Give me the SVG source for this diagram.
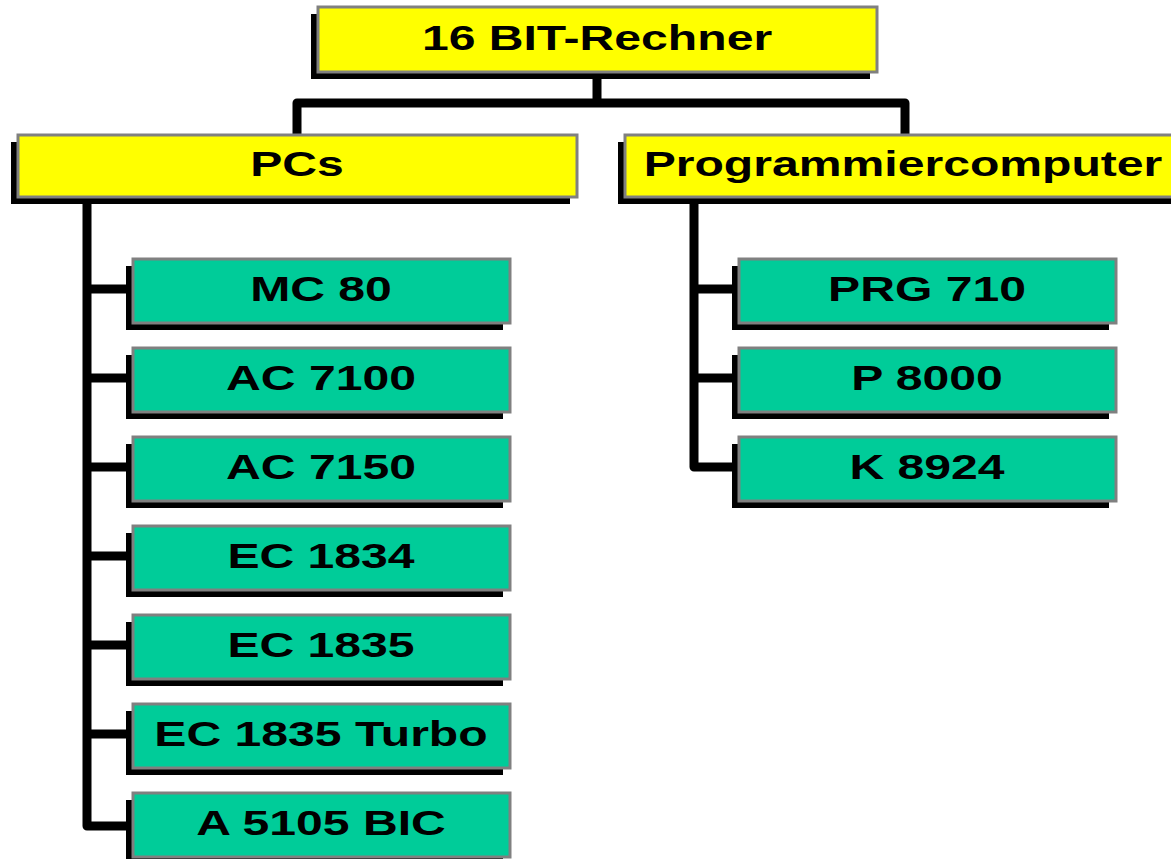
<svg xmlns="http://www.w3.org/2000/svg" width="1171" height="859" viewBox="0 0 1171 859">
<style>
.sh{fill:#000}
.y{fill:#FFFF00;stroke:#808080;stroke-width:3}
.g{fill:#00CC99;stroke:#808080;stroke-width:3}
.t{font-family:"Liberation Sans",Arial,sans-serif;font-weight:bold;font-size:35px;text-anchor:middle;fill:#000}
.c{fill:none;stroke:#000;stroke-width:9;stroke-linejoin:round;stroke-linecap:butt}
</style>
<rect width="1171" height="859" fill="#fff"/>
<g id="connectors">
<path class="c" d="M597,72 V103 M297,135 V103 H905 V135"/>
<path class="c" d="M87,197 V826 H127 M87,289 H127 M87,378 H127 M87,467 H127 M87,556 H127 M87,645 H127 M87,734 H127"/>
<path class="c" d="M694,197 V467 H732 M694,289 H732 M694,378 H732"/>
</g>
<g id="n-root">
<rect class="sh" x="311" y="14" width="559" height="65"/>
<rect class="y" x="318" y="7" width="559" height="65"/>
<text class="t" transform="translate(597,50) scale(1.375,1)">16 BIT-Rechner</text>
</g>
<g id="n-pcs">
<rect class="sh" x="11" y="142" width="559" height="62"/>
<rect class="y" x="18" y="135" width="559" height="62"/>
<text class="t" transform="translate(297,176) scale(1.375,1)">PCs</text>
</g>
<g id="n-prog">
<rect class="sh" x="618" y="142" width="560" height="62"/>
<rect class="y" x="625" y="135" width="560" height="62"/>
<text class="t" transform="translate(903,176) scale(1.375,1)">Programmiercomputer</text>
</g>
<g id="n-mc80">
<rect class="sh" x="126" y="266" width="377" height="64"/>
<rect class="g" x="133" y="259" width="377" height="64"/>
<text class="t" transform="translate(321,301) scale(1.375,1)">MC 80</text>
</g>
<g id="n-ac7100">
<rect class="sh" x="126" y="355" width="377" height="64"/>
<rect class="g" x="133" y="348" width="377" height="64"/>
<text class="t" transform="translate(321,390) scale(1.375,1)">AC 7100</text>
</g>
<g id="n-ac7150">
<rect class="sh" x="126" y="444" width="377" height="64"/>
<rect class="g" x="133" y="437" width="377" height="64"/>
<text class="t" transform="translate(321,479) scale(1.375,1)">AC 7150</text>
</g>
<g id="n-ec1834">
<rect class="sh" x="126" y="533" width="377" height="64"/>
<rect class="g" x="133" y="526" width="377" height="64"/>
<text class="t" transform="translate(321,568) scale(1.375,1)">EC 1834</text>
</g>
<g id="n-ec1835">
<rect class="sh" x="126" y="622" width="377" height="64"/>
<rect class="g" x="133" y="615" width="377" height="64"/>
<text class="t" transform="translate(321,657) scale(1.375,1)">EC 1835</text>
</g>
<g id="n-ec1835t">
<rect class="sh" x="126" y="711" width="377" height="64"/>
<rect class="g" x="133" y="704" width="377" height="64"/>
<text class="t" transform="translate(321,746) scale(1.375,1)">EC 1835 Turbo</text>
</g>
<g id="n-a5105">
<rect class="sh" x="126" y="800" width="377" height="64"/>
<rect class="g" x="133" y="793" width="377" height="64"/>
<text class="t" transform="translate(321,835) scale(1.375,1)">A 5105 BIC</text>
</g>
<g id="n-prg710">
<rect class="sh" x="732" y="266" width="377" height="64"/>
<rect class="g" x="739" y="259" width="377" height="64"/>
<text class="t" transform="translate(927,301) scale(1.375,1)">PRG 710</text>
</g>
<g id="n-p8000">
<rect class="sh" x="732" y="355" width="377" height="64"/>
<rect class="g" x="739" y="348" width="377" height="64"/>
<text class="t" transform="translate(927,390) scale(1.375,1)">P 8000</text>
</g>
<g id="n-k8924">
<rect class="sh" x="732" y="444" width="377" height="64"/>
<rect class="g" x="739" y="437" width="377" height="64"/>
<text class="t" transform="translate(927,479) scale(1.375,1)">K 8924</text>
</g>
</svg>
